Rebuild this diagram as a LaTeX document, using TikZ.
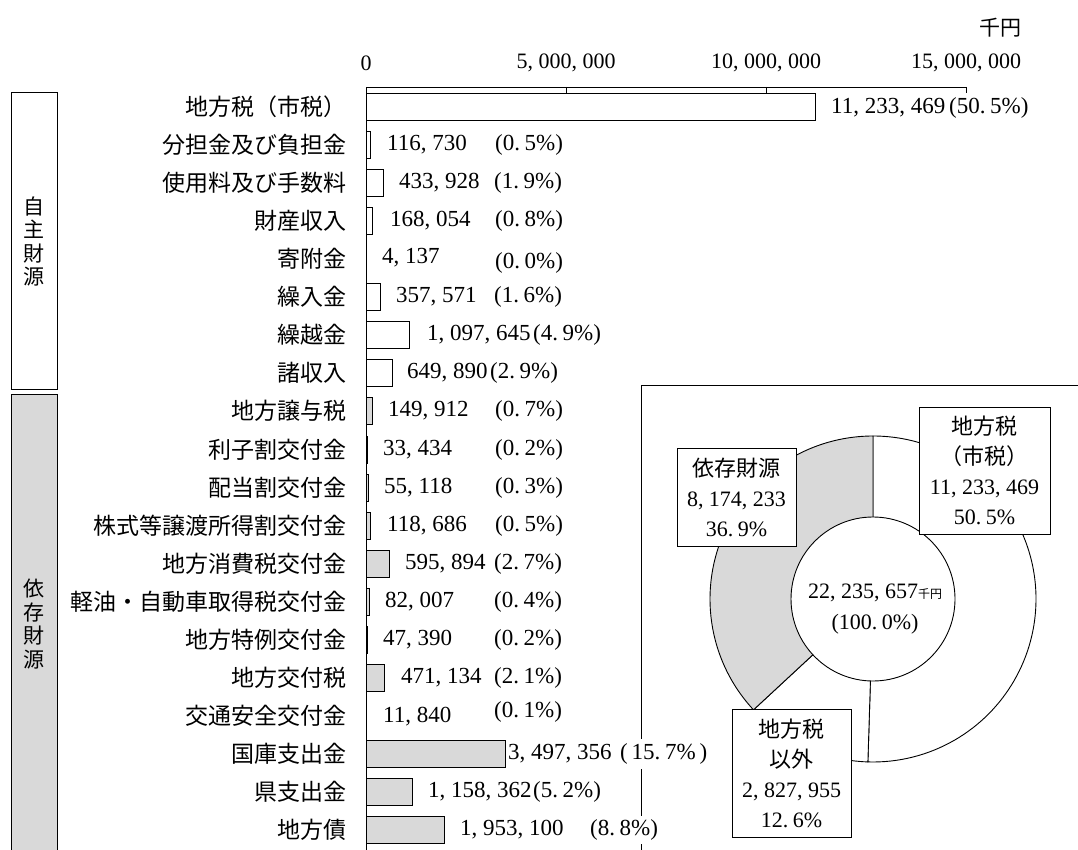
\documentclass[tikz,border=0pt]{standalone}
\usepackage{fontspec}
\setmainfont{Liberation Serif}
\newfontfamily\jp{Noto Sans CJK JP}
\definecolor{barg}{HTML}{D9D9D9}
\newcommand\kc{,\hspace{.25em}}
\newcommand\kd{.\hspace{.2em}}
\newcommand\rowbar[3]{\draw[#3] (366,#1-13.5) rectangle (#2,#1+13.5);}
\begin{document}
\begin{tikzpicture}[x=1pt,y=-1pt,
  every node/.style={inner sep=0pt},
  lab/.style={anchor=east,font=\jp\fontsize{23}{25}\selectfont},
  num/.style={anchor=west,font=\fontsize{23}{25}\selectfont},
  ticklab/.style={font=\fontsize{22}{24}\selectfont},
  wbar/.style={draw=black,line width=0.9pt,fill=white},
  gbar/.style={draw=black,line width=0.9pt,fill=barg},
  pbox/.style={draw,line width=0.9pt,fill=white,align=center,font=\fontsize{22}{30}\selectfont},
  vlab/.style={align=center,font=\jp\fontsize{21}{23.5}\selectfont},
  thin/.style={line width=0.9pt}]
\useasboundingbox (0,0) rectangle (1078,850);
\clip (0,0) rectangle (1078,850);

% group boxes
\draw[thin,fill=white] (11,92) rectangle (57,389);
\draw[thin,fill=barg] (11,394) rectangle (57,880);
\node[vlab] (g1) at (34,241.5) {自\\主\\財\\源};
\node[vlab] (g2) at (34,624) {依\\存\\財\\源};

% bars
\rowbar{107}{815.3}{wbar}
\rowbar{145}{370.7}{wbar}
\rowbar{183}{383.4}{wbar}
\rowbar{221}{372.7}{wbar}
\rowbar{259}{366.2}{wbar}
\rowbar{297}{380.3}{wbar}
\rowbar{335}{409.9}{wbar}
\rowbar{373}{392.0}{wbar}
\rowbar{411}{372.0}{gbar}
\rowbar{449.5}{367.3}{gbar}
\rowbar{487.5}{368.2}{gbar}
\rowbar{525.5}{370.7}{gbar}
\rowbar{563.5}{389.8}{gbar}
\rowbar{601.5}{369.3}{gbar}
\rowbar{640}{367.9}{gbar}
\rowbar{678}{384.8}{gbar}
\rowbar{716}{366.5}{gbar}
\rowbar{754}{505.9}{gbar}
\rowbar{792}{412.3}{gbar}
\rowbar{830}{444.1}{gbar}

% axes
\draw[thin] (366,860) -- (366,87) -- (966,87);
\draw[thin] (566,87) -- (566,93);
\draw[thin] (766,87) -- (766,93);
\draw[thin] (966,87) -- (966,93);
\node[ticklab] (t0) at (366,63) {0};
\node[ticklab] (t1) at (566,63) {5\kc000\kc000};
\node[ticklab] (t2) at (766,63) {10\kc000\kc000};
\node[ticklab] (t3) at (966,63) {15\kc000\kc000};
\node[font=\jp\fontsize{21}{24}\selectfont] (unit) at (1000,28) {千円};

% pie panel frame
\draw[thin] (641,870) -- (641,385) -- (1090,385);

% category labels
\node[lab] (l0) at (347,107) {地方税（市税）};
\node[lab] (l1) at (347,145) {分担金及び負担金};
\node[lab] (l2) at (347,183) {使用料及び手数料};
\node[lab] (l3) at (347,221) {財産収入};
\node[lab] (l4) at (347,259) {寄附金};
\node[lab] (l5) at (347,297) {繰入金};
\node[lab] (l6) at (347,335) {繰越金};
\node[lab] (l7) at (347,373) {諸収入};
\node[lab] (l8) at (347,411) {地方譲与税};
\node[lab] (l9) at (347,449.5) {利子割交付金};
\node[lab] (l10) at (347,487.5) {配当割交付金};
\node[lab] (l11) at (347,525.5) {株式等譲渡所得割交付金};
\node[lab] (l12) at (347,563.5) {地方消費税交付金};
\node[lab] (l13) at (347,601.5) {軽油・自動車取得税交付金};
\node[lab] (l14) at (347,640) {地方特例交付金};
\node[lab] (l15) at (347,678) {地方交付税};
\node[lab] (l16) at (347,716) {交通安全交付金};
\node[lab] (l17) at (347,754) {国庫支出金};
\node[lab] (l18) at (347,792) {県支出金};
\node[lab] (l19) at (347,830) {地方債};

% values and shares
\node[num] (v0) at (831,108) {11\kc233\kc469\,(50\kd5\%)};
\node[num] (v1) at (387,145) {116\kc730};   \node[num] (p1) at (495,145) {(0\kd5\%)};
\node[num] (v2) at (399,183) {433\kc928};   \node[num] (p2) at (494,183) {(1\kd9\%)};
\node[num] (v3) at (390,221) {168\kc054};   \node[num] (p3) at (495,221) {(0\kd8\%)};
\node[num] (v4) at (382,258) {4\kc137};     \node[num] (p4) at (495,263) {(0\kd0\%)};
\node[num] (v5) at (396,297) {357\kc571};   \node[num] (p5) at (494,297) {(1\kd6\%)};
\node[num] (v6) at (427,335) {1\kc097\kc645}; \node[num] (p6) at (533,335) {(4\kd9\%)};
\node[num] (v7) at (407,373) {649\kc890};   \node[num] (p7) at (490,373) {(2\kd9\%)};
\node[num] (v8) at (388,411) {149\kc912};   \node[num] (p8) at (495,411) {(0\kd7\%)};
\node[num] (v9) at (383,449.5) {33\kc434};  \node[num] (p9) at (495,449.5) {(0\kd2\%)};
\node[num] (v10) at (384,487.5) {55\kc118}; \node[num] (p10) at (495,487.5) {(0\kd3\%)};
\node[num] (v11) at (387,525.5) {118\kc686}; \node[num] (p11) at (495,525.5) {(0\kd5\%)};
\node[num] (v12) at (405,563.5) {595\kc894}; \node[num] (p12) at (494,563.5) {(2\kd7\%)};
\node[num] (v13) at (385,601.5) {82\kc007}; \node[num] (p13) at (494,601.5) {(0\kd4\%)};
\node[num] (v14) at (383,640) {47\kc390};   \node[num] (p14) at (494,640) {(0\kd2\%)};
\node[num] (v15) at (401,678) {471\kc134};  \node[num] (p15) at (494,678) {(2\kd1\%)};
\node[num] (v16) at (383,717) {11\kc840};   \node[num] (p16) at (494,712) {(0\kd1\%)};
\node[num] (v17) at (508,754) {3\kc497\kc356};
\node[num,fill=white,inner ysep=5pt] (p17) at (620,754) {(\,15\kd7\%\,)};
\node[num] (v18) at (428,792) {1\kc158\kc362}; \node[num] (p18) at (533,792) {(5\kd2\%)};
\node[num] (v19) at (460,830) {1\kc953\kc100};
\node[num,fill=white,inner ysep=4pt] (p19) at (590,830) {(8\kd8\%)};

% donut
\begin{scope}[shift={(873,599)},line width=0.9pt]
  \draw[fill=white] (0,0) -- (-90:163) arc[start angle=-90, end angle=91.8, radius=163] -- cycle;
  \draw[fill=white] (0,0) -- (91.8:163) arc[start angle=91.8, end angle=137.16, radius=163] -- cycle;
  \draw[fill=barg] (0,0) -- (137.16:163) arc[start angle=137.16, end angle=270, radius=163] -- cycle;
\end{scope}
\node[circle,draw,line width=0.9pt,fill=white,minimum size=164] (tot) at (873,599) {};
\node[align=center,font=\fontsize{22}{31}\selectfont] (tottxt) at (875,609)
  {22\kc235\kc657{\jp\fontsize{12}{12}\selectfont 千円}\\(100\kd0\%)};

\node[pbox,minimum width=119,minimum height=98] (dep) at (736.5,497)
  {{\jp 依存財源}\\8\kc174\kc233\\36\kd9\%};
\node[pbox,minimum width=131,minimum height=127] (tax) at (984.5,470.5)
  {{\jp 地方税}\\{\jp （市税）}\\11\kc233\kc469\\50\kd5\%};
\node[pbox,minimum width=119,minimum height=128] (oth) at (791.5,773)
  {{\jp 地方税}\\{\jp 以外}\\2\kc827\kc955\\12\kd6\%};
\end{tikzpicture}
\end{document}
